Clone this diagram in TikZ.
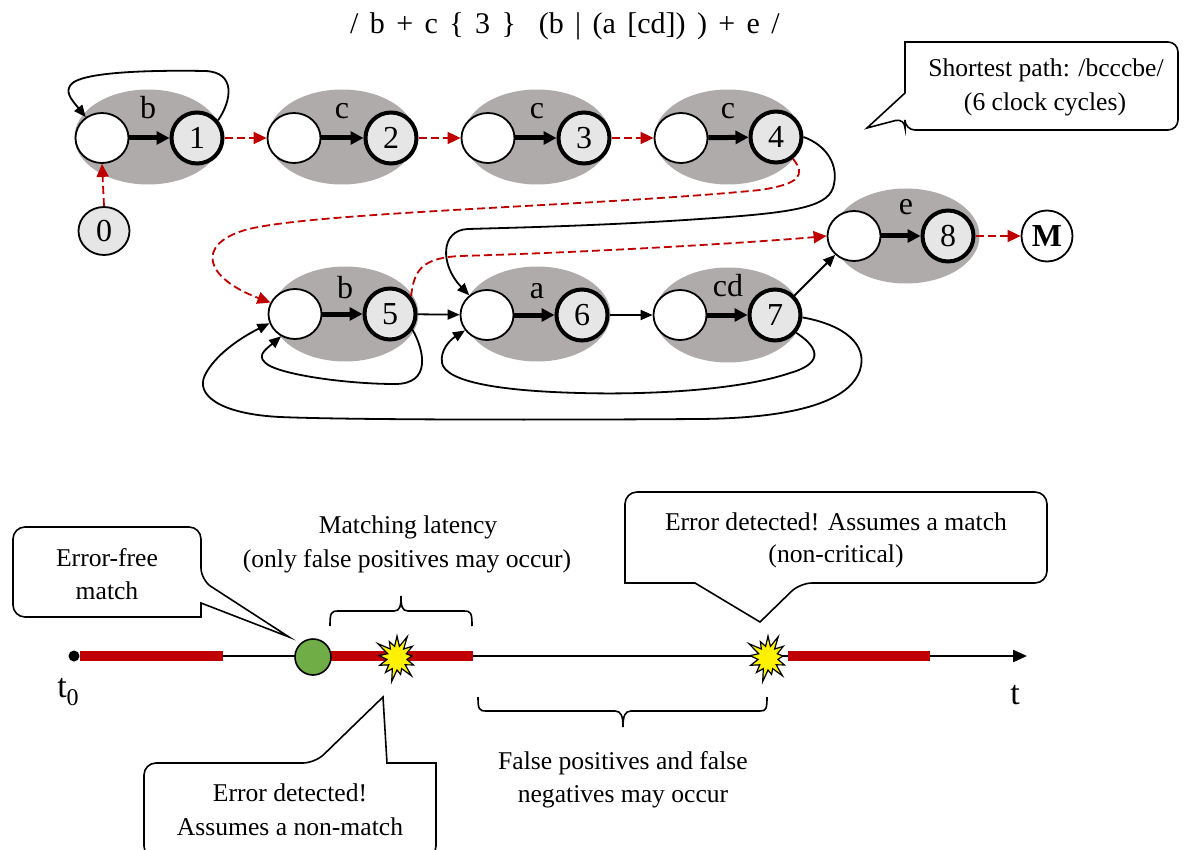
\documentclass[tikz,border=0pt]{standalone}
\usepackage{fontspec}
\setmainfont{Liberation Serif}
\usetikzlibrary{arrows.meta,shapes.geometric,shapes.symbols}
\definecolor{grpgray}{RGB}{175,171,171}
\definecolor{numgray}{RGB}{231,230,230}
\definecolor{darkred}{RGB}{192,0,0}
\definecolor{okgreen}{RGB}{112,173,71}
\begin{document}
\begin{tikzpicture}[x=0.5pt,y=-0.5pt,
  grp/.style={ellipse, fill=grpgray, minimum width=73.5pt, minimum height=47.5pt, inner sep=0pt},
  emp/.style={ellipse, draw, fill=white, line width=0.9pt, minimum width=26.5pt, minimum height=25pt, inner sep=0pt},
  num/.style={circle, draw, fill=numgray, line width=2pt, minimum size=25.5pt, inner sep=0pt, font=\fontsize{16}{16}\selectfont},
  lbl/.style={anchor=base, inner sep=0pt, font=\fontsize{16}{16}\selectfont},
  thk/.style={line width=2.5pt, -{Triangle[length=6.5pt,width=6.5pt]}},
  rdash/.style={draw=darkred, line width=0.9pt, dash pattern=on 4pt off 2pt, -{Triangle[length=6.5pt,width=6pt,fill=darkred]}},
  conn/.style={line width=0.9pt, -{Triangle[length=6pt,width=5pt]}},
  txt/.style={inner sep=0pt, font=\fontsize{12.8}{14}\selectfont},
  bar/.style={draw=darkred, line width=5pt},
  callout/.style={line width=0.8pt, fill=white},
  burst/.style={starburst, draw, fill=yellow, line width=0.6pt, starburst points=13, starburst point height=7pt, minimum width=24pt, minimum height=26pt, inner sep=0pt},
]
\useasboundingbox (0,0) rectangle (1188,850);
\clip (0,0) rectangle (1188,850);

% title
\node[inner sep=0pt, font=\fontsize{15}{17}\selectfont] (title) at (565,26) {\spaceskip=0.38em plus 0.1em /\ b + c \{ 3 \}\ \ (b | (a [cd]) ) + e /};

% groups
\node[grp] (g1) at (148,137) {};
\node[grp] (g2) at (342,137) {};
\node[grp] (g3) at (537,137) {};
\node[grp] (g4) at (728,137) {};
\node[grp] (g5) at (345,314) {};
\node[grp] (g6) at (537,314) {};
\node[grp] (g7) at (728,315) {};
\node[grp] (g8) at (906,236) {};

% labels
\node[lbl] (l1) at (148,119) {b};
\node[lbl] (l2) at (342,119) {c};
\node[lbl] (l3) at (537,119) {c};
\node[lbl] (l4) at (728,119) {c};
\node[lbl] (l5) at (345,299) {b};
\node[lbl] (l6) at (537,299) {a};
\node[lbl] (l7) at (728,297) {cd};
\node[lbl] (l8) at (906,215) {e};

% state nodes
\node[emp] (e1) at (102,138) {};
\node[num] (n1) at (197,138) {1};
\node[emp] (e2) at (294,138) {};
\node[num] (n2) at (391,138) {2};
\node[emp] (e3) at (488,138) {};
\node[num] (n3) at (584,138) {3};
\node[emp] (e4) at (681,138) {};
\node[num] (n4) at (776,137) {4};
\node[emp] (e5) at (295,314) {};
\node[num] (n5) at (390,314) {5};
\node[emp] (e6) at (487,315) {};
\node[num] (n6) at (582,315) {6};
\node[emp] (e7) at (680,315) {};
\node[num] (n7) at (775,315) {7};
\node[emp] (e8) at (854,236) {};
\node[num] (n8) at (948,236) {8};
\node[ellipse, draw, fill=numgray, line width=0.9pt, minimum width=25.5pt, minimum height=24pt, inner sep=0pt, font=\fontsize{16}{16}\selectfont] (n0) at (104,231) {0};
\node[circle, draw, fill=white, line width=0.9pt, minimum size=25.5pt, inner sep=0pt, font=\fontsize{16}{16}\selectfont\bfseries] (M) at (1047,236) {M};

% thick transitions
\draw[thk] (e1) -- (n1);
\draw[thk] (e2) -- (n2);
\draw[thk] (e3) -- (n3);
\draw[thk] (e4) -- (n4);
\draw[thk] (e5) -- (n5);
\draw[thk] (e6) -- (n6);
\draw[thk] (e7) -- (n7);
\draw[thk] (e8) -- (n8);

% red dashed epsilon transitions
\draw[rdash] (n0.north) -- (e1.south);
\draw[rdash] (n1) -- (e2);
\draw[rdash] (n2) -- (e3);
\draw[rdash] (n3) -- (e4);
\draw[rdash] (n8) -- (M);
\draw[rdash] (n4.-52) .. controls (806,175) and (800,184) .. (760,190)
   .. controls (600,206) and (310,212) .. (245,230)
   .. controls (195,245) and (205,278) .. (e5.155);
\draw[rdash] (n5.40) .. controls (414,270) and (422,258) .. (460,256)
   .. controls (600,252) and (760,242) .. (e8.west);

% black connectors
\draw[conn] (n1.40) .. controls (232,100) and (236,72) .. (205,71)
   .. controls (150,70) and (90,72) .. (74,82)
   .. controls (62,90) and (72,100) .. (e1.128);
\draw[conn] (n4.east) .. controls (826,145) and (840,165) .. (833,188)
   .. controls (826,208) and (790,213) .. (700,219)
   .. controls (600,226) and (500,228) .. (468,229)
   .. controls (440,230) and (440,265) .. (e6.132);
\draw[conn] (n5) -- (e6);
\draw[conn] (n6) -- (e7);
\draw[conn] (n7) -- (e8);
\draw[conn] (n5.-35) .. controls (424,350) and (432,384) .. (395,384)
   .. controls (350,384) and (290,376) .. (270,366)
   .. controls (254,357) and (265,350) .. (e5.-122);
\draw[conn] (n7.-40) .. controls (815,345) and (828,362) .. (790,373)
   .. controls (740,390) and (650,395) .. (580,393)
   .. controls (500,391) and (446,382) .. (442,363)
   .. controls (440,350) and (450,340) .. (e6.-145);
\draw[conn] (n7.-5) .. controls (845,325) and (868,345) .. (860,370)
   .. controls (850,400) and (800,418) .. (700,419)
   .. controls (550,420) and (350,420) .. (280,417)
   .. controls (220,414) and (195,395) .. (205,375)
   .. controls (215,355) and (240,338) .. (e5.-160);

% top callout
\draw[callout, rounded corners=5pt] (1040,42) -- (1178,42) -- (1178,130) -- (905,130) -- (905,118) [sharp corners] -- (867,128) -- (905,93) -- (905,42) [rounded corners=5pt] -- cycle;
\node[txt] (sp1) at (1046,70) {Shortest path: /bcccbe/};
\node[txt] (sp2) at (1045,104) {(6 clock cycles)};

% ---------------- timeline ----------------
\node[circle, fill=black, inner sep=0pt, minimum size=5.5pt] (t0dot) at (74,656) {};
\coordinate (tend) at (1027,656);
\draw[line width=1.2pt, -{Triangle[length=7pt,width=6pt]}] (t0dot) -- (tend);
\coordinate (r1a) at (80,656); \coordinate (r1b) at (223,656);
\coordinate (r2a) at (331,656); \coordinate (r2b) at (473,656);
\coordinate (r3a) at (788,656); \coordinate (r3b) at (930,656);
\draw[bar] (r1a) -- (r1b);
\draw[bar] (r2a) -- (r2b);
\draw[bar] (r3a) -- (r3b);
\node[circle, draw, fill=okgreen, line width=0.8pt, minimum size=18pt, inner sep=0pt] (gm) at (313,657) {};
\node[burst] (s1) at (397,658) {};
\node[burst] (s2) at (768,658) {};

\node[inner sep=0pt, font=\fontsize{17}{17}\selectfont] (t0) at (68,692) {t\raisebox{-4pt}{\fontsize{12}{12}\selectfont 0}};
\node[inner sep=0pt, font=\fontsize{17}{17}\selectfont] (tl) at (1015,695) {t};

% braces
\draw[line width=0.8pt] (330,626) .. controls (330,613) and (331,611) .. (338,611) -- (394,611)
  .. controls (400,611) and (401,606) .. (401,596) .. controls (401,606) and (402,611) .. (408,611)
  -- (464,611) .. controls (471,611) and (472,613) .. (472,626);
\draw[line width=0.8pt] (478,697) .. controls (478,709) and (479,711) .. (486,711) -- (615,711)
  .. controls (621,711) and (623,716) .. (623,727) .. controls (623,716) and (625,711) .. (631,711)
  -- (760,711) .. controls (766,711) and (767,709) .. (767,697);

\node[txt] (ml1) at (408,527) {Matching latency};
\node[txt] (ml2) at (407,561) {(only false positives may occur)};
\node[txt] (fp1) at (623,763) {False positives and false};
\node[txt] (fp2) at (623,797) {negatives may occur};

% callouts
\draw[callout, rounded corners=6pt] (107,527) -- (201,527) -- (201,580) [sharp corners] -- (289,637) -- (201,603) -- (201,617) [rounded corners=6pt] -- (13,617) -- (13,527) -- cycle;
\node[txt] (ef1) at (107,558) {Error-free};
\node[txt] (ef2) at (107,591) {match};

\draw[callout, rounded corners=6pt] (144,858) -- (144,763) -- (315,763) [sharp corners] -- (383,697) -- (387,763) -- (436,763) [rounded corners=6pt] -- (436,858) -- cycle;
\node[txt] (ed1) at (290,793) {Error detected!};
\node[txt] (ed2) at (290,827) {Assumes a non-match};

\draw[callout, rounded corners=6pt] (836,492) -- (1047,492) -- (1047,583) -- (800,583) [sharp corners] -- (760,622) -- (695,583) -- (625,583) [rounded corners=6pt] -- (625,492) -- cycle;
\node[txt] (em1) at (836,522) {Error detected! Assumes a match};
\node[txt] (em2) at (836,556) {(non-critical)};
\end{tikzpicture}
\end{document}
